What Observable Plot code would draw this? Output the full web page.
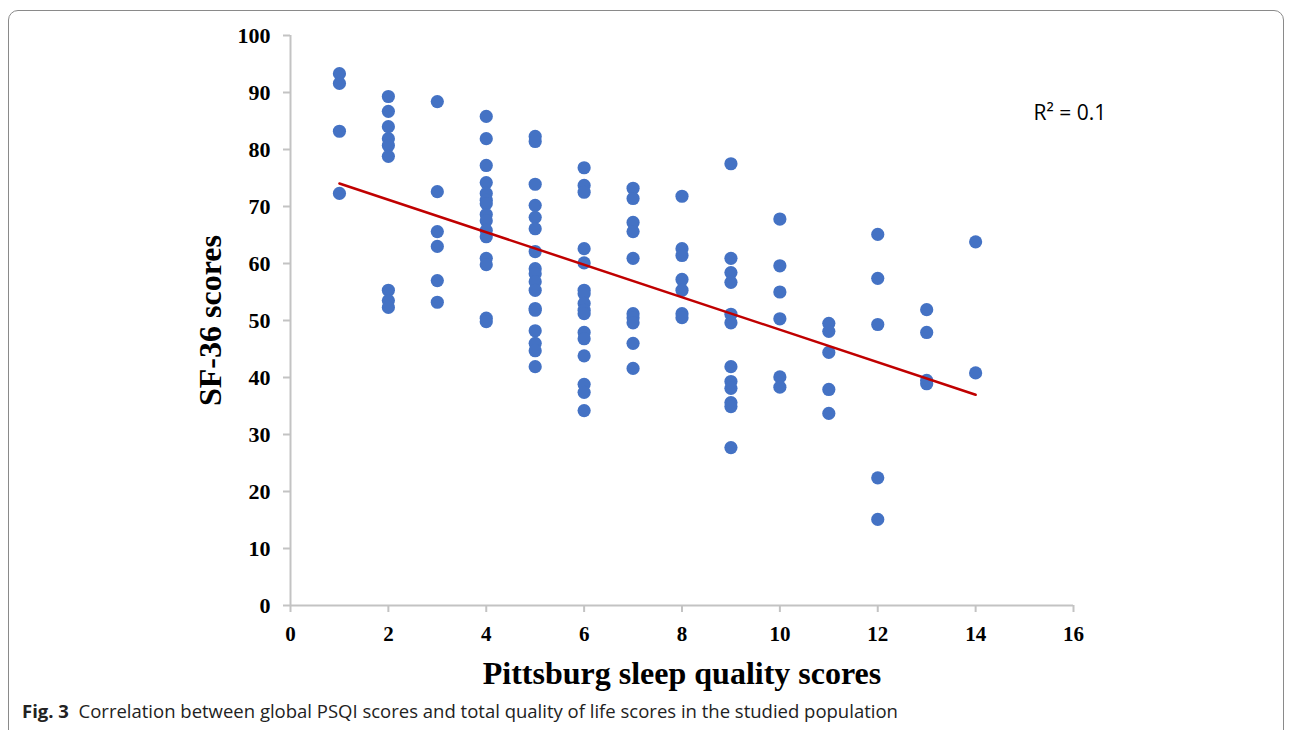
<!DOCTYPE html>
<html>
<head>
<meta charset="utf-8">
<script src="https://cdn.jsdelivr.net/npm/d3@7"></script>
<script src="https://cdn.jsdelivr.net/npm/@observablehq/plot@0.6"></script>
<style>
  html, body { margin: 0; padding: 0; background: #fff; }
  #frame { position: absolute; left: 8px; top: 10px; width: 1276px; height: 740px;
           border: 1px solid #8a8a8a; border-radius: 10px; box-sizing: border-box; }
  #chart { position: absolute; left: 0; top: 0; }
  #caption { position: absolute; left: 22px; top: 698px; font-family: "Open Sans", sans-serif;
             font-size: 18.5px; color: #222; }
  #caption b { font-weight: 700; }
</style>
</head>
<body>
<div id="frame"></div>
<div id="chart"></div>
<div id="caption"><b>Fig. 3</b>&nbsp; Correlation between global PSQI scores and total quality of life scores in the studied population</div>
<script>
// PSQI global score (x) and SF-36 total score (y)
const psqi = [
  1,1,1,1,
  2,2,2,2,2,2,2,2,2,
  3,3,3,3,3,3,
  4,4,4,4,4,4,4,4,4,4,4,4,4,4,4,
  5,5,5,5,5,5,5,5,5,5,5,5,5,5,5,5,5,
  6,6,6,6,6,6,6,6,6,6,6,6,6,6,6,6,
  7,7,7,7,7,7,7,7,7,7,
  8,8,8,8,8,8,8,
  9,9,9,9,9,9,9,9,9,9,9,9,
  10,10,10,10,10,10,
  11,11,11,11,11,
  12,12,12,12,12,
  13,13,13,13,
  14,14
];
const sf36 = [
  93.3,91.6,83.2,72.3,
  89.3,86.7,84.0,81.9,80.7,78.8,55.3,53.5,52.3,
  88.4,72.6,65.6,63.0,57.0,53.2,
  85.8,81.9,77.2,74.2,72.3,71.1,70.5,68.6,67.5,65.8,64.7,60.9,59.8,50.4,49.8,
  82.3,81.4,73.9,70.2,68.1,66.1,62.1,59.1,58.2,56.8,55.3,52.1,51.8,48.2,46.0,44.7,41.9,
  76.8,73.7,72.5,62.6,60.1,55.3,54.7,53.0,51.8,51.2,47.9,46.8,43.8,38.8,37.4,34.2,
  73.2,71.4,67.2,65.6,60.9,51.2,50.5,49.6,46.0,41.6,
  71.8,62.6,61.4,57.2,55.3,51.2,50.5,
  77.5,60.9,58.4,56.7,51.1,49.6,41.9,39.3,38.1,35.6,34.9,27.7,
  67.8,59.6,55.0,50.3,40.1,38.3,
  49.5,48.1,44.4,37.9,33.7,
  65.1,57.4,49.3,22.4,15.1,
  51.9,47.9,39.5,38.9,
  63.8,40.8
];
const xTicks = [0,2,4,6,8,10,12,14,16];
const yTicks = [0,10,20,30,40,50,60,70,80,90,100];
const xTitle = ["Pittsburg sleep quality scores"];
const yTitle = ["SF-36 scores"];
const r2Label = ["R\u00B2 = 0.1"];

const data = psqi.map((x, i) => ({x, y: sf36[i]}));
const serif = "'Liberation Serif', 'Times New Roman', serif";

const chart = Plot.plot({
  width: 1292,
  height: 700,
  marginLeft: 290,
  marginRight: 219,
  marginTop: 35,
  marginBottom: 95,
  style: {fontFamily: serif, background: "transparent", overflow: "visible"},
  x: {domain: [0, 16]},
  y: {domain: [0, 100]},
  marks: [
    Plot.axisY(yTicks, {tickSize: 7, tickPadding: 13, stroke: "#c3c3c3", strokeWidth: 2, fill: "#000",
      fontSize: 22, fontWeight: "bold", label: null, fontFamily: serif}),
    Plot.axisX(xTicks, {tickSize: 7, tickPadding: 14, stroke: "#c3c3c3", strokeWidth: 2, fill: "#000",
      fontSize: 21, fontWeight: "bold", label: null, fontFamily: serif}),
    Plot.ruleX([0], {stroke: "#c3c3c3", strokeWidth: 2}),
    Plot.ruleY([0], {stroke: "#c3c3c3", strokeWidth: 2}),
    Plot.dot(data, {x: "x", y: "y", r: 6.6, fill: "#4472C4", stroke: "none"}),
    Plot.linearRegressionY(data, {x: "x", y: "y", stroke: "#C00000", strokeWidth: 2.5, ci: 0}),
    Plot.text(r2Label, {frameAnchor: "top-right", textAnchor: "start", dx: -40, dy: 70,
      fontSize: 21, fontFamily: "'Open Sans', sans-serif", fill: "#000", fontWeight: "normal"}),
    Plot.text(yTitle, {frameAnchor: "left", textAnchor: "middle", rotate: -90, dx: -80, fontSize: 32, fontWeight: "bold", fill: "#000"}),
    Plot.text(xTitle, {frameAnchor: "bottom", textAnchor: "middle", dy: 78, fontSize: 32, fontWeight: "bold", fill: "#000"})
  ]
});
document.getElementById("chart").appendChild(chart);
</script>
</body>
</html>
